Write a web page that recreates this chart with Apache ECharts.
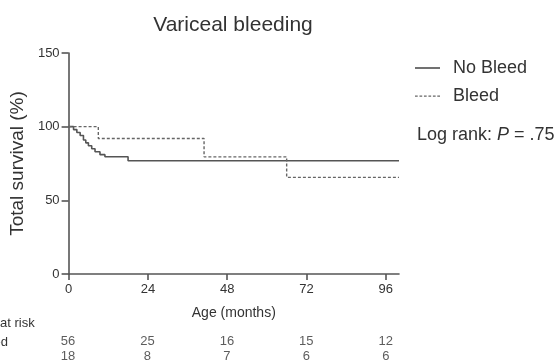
<!DOCTYPE html>
<html>
<head>
<meta charset="utf-8">
<script src="https://cdn.jsdelivr.net/npm/echarts@6/dist/echarts.min.js"></script>
<style>
    html, body { margin: 0; padding: 0; background: #fff; }
    #chart { width: 560px; height: 364px; }
</style>
</head>
<body>
<div id="chart"></div>
<script>
    // KM curves: [month, survival %]
    const noBleed = [
        [0, 100], [1.5, 98], [2.5, 96], [3.5, 94], [4.5, 91], [5.2, 89],
        [6, 87], [7, 85], [8, 83], [9.5, 81], [11, 79.6], [18, 76.9], [100, 76.9]
    ];
    const bleed = [
        [0, 100], [9, 92], [41, 79.5], [66, 65.6], [100, 65.6]
    ];
    const xTicks = [0, 24, 48, 72, 96];
    const riskGroups = ["No Bleed", "Bleed"];
    const riskNoBleed = [56, 25, 16, 15, 12];
    const riskBleed = [18, 8, 7, 6, 6];

    const font = "Liberation Sans, Arial, sans-serif";
    const ink = "#333";
    const lineCol = "#555";

    const riskData = [];
    xTicks.forEach((t, i) => {
        riskData.push([t, riskGroups[0], riskNoBleed[i]]);
        riskData.push([t, riskGroups[1], riskBleed[i]]);
    });

    // legend icons: plain solid line and a dashed one (no symbol)
    const solidIcon = "path://M0,0H24V1.6H0Z";
    const dashIcon = "path://M0,0H2.6V1.2H0Z M4.3,0H6.9V1.2H4.3Z M8.6,0H11.2V1.2H8.6Z " +
        "M12.9,0H15.5V1.2H12.9Z M17.2,0H19.8V1.2H17.2Z M21.4,0H24V1.2H21.4Z";

    const chart = echarts.init(document.getElementById("chart"));

    const option = {
        animation: false,
        textStyle: { fontFamily: font },
        title: {
            text: "Variceal bleeding",
            left: 228,
            textAlign: "center",
            top: 10,
            textStyle: { fontSize: 21, fontWeight: "normal", color: ink, fontFamily: font }
        },
        legend: {
            orient: "vertical",
            left: 415,
            top: 59,
            padding: 0,
            itemWidth: 25,
            itemHeight: 2,
            itemGap: 10,
            textStyle: { fontSize: 18, color: ink, fontFamily: font, padding: [0, 0, 0, 8] },
            data: [
                { name: "No Bleed", icon: solidIcon },
                { name: "Bleed", icon: dashIcon }
            ]
        },
        graphic: [
            {
                type: "text",
                x: 417,
                y: 135,
                style: {
                    text: "Log rank: {i|P} = .75",
                    verticalAlign: "middle",
                    fontSize: 18,
                    fill: ink,
                    fontFamily: font,
                    rich: { i: { fontStyle: "italic", fontSize: 18, fontFamily: font } }
                }
            },
            {
                type: "text",
                x: 0, y: 323,
                style: { text: "at risk", verticalAlign: "middle", fontSize: 13, fill: ink, fontFamily: font }
            },
            {
                type: "text",
                x: 8, y: 342,
                style: { text: "No bleed", align: "right", verticalAlign: "middle", fontSize: 13, fill: ink, fontFamily: font }
            }
        ],
        grid: [
            { left: 68, right: 161, top: 53, bottom: 90 },
            { left: 68, right: 161, top: 334, height: 30 }
        ],
        xAxis: [
            {
                gridIndex: 0,
                type: "value",
                min: 0,
                max: 100,
                interval: 24,
                name: "Age (months)",
                nameLocation: "middle",
                nameGap: 32,
                nameTextStyle: { fontSize: 14, color: ink, fontFamily: font },
                splitLine: { show: false },
                axisLine: { lineStyle: { color: lineCol, width: 1.6 } },
                axisTick: { show: true, length: 6, customValues: xTicks, lineStyle: { color: lineCol, width: 1.6 } },
                axisLabel: { customValues: xTicks, fontSize: 13, color: ink, margin: 9, fontFamily: font }
            },
            {
                gridIndex: 1,
                type: "value",
                min: 0,
                max: 100,
                show: false
            }
        ],
        yAxis: [
            {
                gridIndex: 0,
                type: "value",
                min: 0,
                max: 150,
                interval: 50,
                name: "Total survival (%)",
                nameLocation: "middle",
                nameGap: 40,
                nameTextStyle: { fontSize: 19, color: ink, fontFamily: font },
                splitLine: { show: false },
                axisLine: { show: true, lineStyle: { color: lineCol, width: 1.6 } },
                axisTick: { show: true, length: 7, lineStyle: { color: lineCol, width: 1.6 } },
                axisLabel: { fontSize: 13, color: ink, margin: 9, fontFamily: font }
            },
            {
                gridIndex: 1,
                type: "category",
                data: riskGroups,
                inverse: true,
                show: false
            }
        ],
        series: [
            {
                name: "No Bleed",
                type: "line",
                step: "end",
                symbol: "none",
                xAxisIndex: 0,
                yAxisIndex: 0,
                lineStyle: { color: lineCol, width: 1.6 },
                itemStyle: { color: lineCol },
                data: noBleed
            },
            {
                name: "Bleed",
                type: "line",
                step: "end",
                symbol: "none",
                xAxisIndex: 0,
                yAxisIndex: 0,
                lineStyle: { color: "#666", width: 1.4, type: [3, 2] },
                itemStyle: { color: "#666" },
                data: bleed
            },
            {
                name: "risk",
                type: "scatter",
                xAxisIndex: 1,
                yAxisIndex: 1,
                symbolSize: 0,
                label: {
                    show: true,
                    position: "inside",
                    fontSize: 13,
                    color: ink,
                    fontFamily: font,
                    formatter: p => p.value[2]
                },
                data: riskData
            }
        ]
    };

    chart.setOption(option);
</script>
</body>
</html>
